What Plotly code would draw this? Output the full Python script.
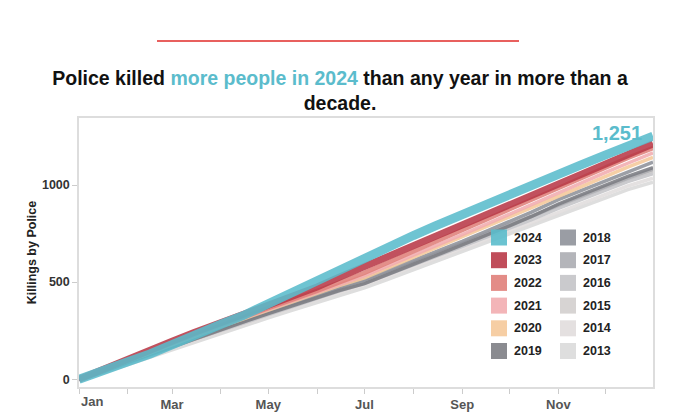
import plotly.graph_objects as go

# cumulative killings by police, read at roughly twice a month
dates = ["2021-01-01", "2021-01-15", "2021-02-01", "2021-02-15", "2021-03-01",
         "2021-03-15", "2021-04-01", "2021-04-15", "2021-05-01", "2021-05-15",
         "2021-06-01", "2021-06-15", "2021-07-01", "2021-07-15", "2021-08-01",
         "2021-08-15", "2021-09-01", "2021-09-15", "2021-10-01", "2021-10-15",
         "2021-11-01", "2021-11-15", "2021-12-01", "2021-12-15", "2021-12-31"]

y2013 = [0, 30, 76, 114, 152, 192, 238, 272, 316, 352, 396, 432, 470, 512, 564, 604, 655, 698, 748, 790, 845, 888, 936, 976, 1015]
y2014 = [0, 32, 80, 118, 158, 198, 245, 280, 325, 362, 406, 444, 484, 525, 578, 618, 670, 712, 762, 805, 860, 902, 952, 995, 1035]
y2015 = [0, 36, 88, 128, 170, 212, 260, 296, 342, 380, 426, 465, 505, 548, 602, 645, 698, 742, 792, 838, 895, 938, 990, 1032, 1072]
y2016 = [0, 34, 84, 122, 164, 205, 252, 288, 334, 370, 416, 454, 494, 536, 590, 632, 684, 728, 778, 822, 880, 924, 975, 1018, 1058]
y2017 = [0, 36, 86, 126, 168, 210, 258, 294, 340, 378, 424, 462, 500, 545, 600, 642, 695, 740, 792, 838, 896, 940, 992, 1036, 1080]
y2018 = [0, 38, 90, 130, 174, 216, 265, 302, 348, 386, 434, 472, 512, 556, 612, 656, 710, 758, 812, 860, 925, 970, 1025, 1070, 1118]
y2019 = [0, 36, 88, 128, 170, 210, 258, 294, 338, 374, 420, 456, 492, 535, 592, 636, 690, 735, 790, 838, 902, 948, 1000, 1045, 1090]
y2020 = [0, 38, 92, 134, 180, 222, 272, 310, 356, 394, 442, 482, 522, 570, 628, 675, 732, 780, 835, 884, 945, 990, 1045, 1092, 1142]
y2021 = [0, 40, 95, 138, 182, 225, 276, 314, 360, 398, 447, 488, 532, 580, 640, 688, 745, 793, 850, 900, 962, 1010, 1065, 1112, 1165]
y2022 = [0, 42, 98, 140, 185, 228, 280, 318, 366, 405, 455, 498, 548, 598, 660, 708, 768, 818, 875, 925, 988, 1035, 1092, 1140, 1190]
y2023 = [0, 48, 105, 150, 195, 240, 290, 328, 378, 420, 475, 525, 580, 628, 686, 733, 792, 838, 900, 950, 1008, 1056, 1110, 1160, 1212]
y2024 = [0, 36, 90, 130, 180, 228, 283, 327, 390, 445, 510, 565, 625, 678, 740, 790, 850, 898, 950, 997, 1055, 1102, 1155, 1203, 1251]

years = ["2013", "2014", "2015", "2016", "2017", "2018",
         "2019", "2020", "2021", "2022", "2023", "2024"]
series = [y2013, y2014, y2015, y2016, y2017, y2018,
          y2019, y2020, y2021, y2022, y2023, y2024]
colors = ["#dadada", "#e1dddd", "#d3cfce", "#c4c4c8", "#acadb2", "#8f929a",
          "#7d7e84", "#f5c99a", "#f2adb0", "#e0807a", "#b93a48", "#5bbccc"]
widths = [3.5, 3.5, 3.5, 3.5, 3.5, 3.5, 3.5, 3.5, 3.5, 4.5, 7, 9]

month_ticks = ["2021-%02d-01" % m for m in range(1, 13)]
month_text = ["", "", "Mar", "", "May", "", "Jul", "", "Sep", "", "Nov", ""]

FONT = "Liberation Sans, Arial, sans-serif"
TEAL = "#5bbccc"

# plot box in pixels
W, H = 680, 419
L, R, T, B = 79, 653, 118, 387


def px(x):
    return (x - L) / (R - L)


def py(y):
    return (B - y) / (B - T)


fig = go.Figure()
for yr, vals, c, w in zip(years, series, colors, widths):
    fig.add_trace(go.Scatter(
        x=dates, y=vals, mode="lines", name=yr,
        line=dict(color=c, width=w), opacity=0.88,
        hoverinfo="skip", showlegend=False
    ))

fig.add_annotation(
    x=dates[-1], y=y2024[-1], text="<b>1,251</b>", showarrow=False,
    xanchor="right", yanchor="middle", xshift=-9, yshift=3,
    font=dict(family=FONT, size=20, color=TEAL)
)
fig.add_annotation(
    x=dates[0], y=0, yref="paper", text="<b>Jan</b>", showarrow=False,
    xanchor="left", yanchor="top", yshift=-5,
    font=dict(family=FONT, size=13, color="#555")
)

# legend drawn by hand: two columns of six
shapes = [dict(type="line", xref="paper", yref="paper",
               x0=px(157), x1=px(519), y0=py(41), y1=py(41),
               line=dict(color="#e8605e", width=2))]
order = years[::-1]
ocolors = colors[::-1]
for i, (yr, c) in enumerate(zip(order, ocolors)):
    col, row = divmod(i, 6)
    sx = 491 + col * 69
    cy = 237.5 + row * 22.7
    shapes.append(dict(type="rect", xref="paper", yref="paper",
                       x0=px(sx), x1=px(sx + 16), y0=py(cy + 8), y1=py(cy - 8),
                       fillcolor=c, opacity=0.9, line=dict(width=0)))
    fig.add_annotation(
        x=px(sx + 21), y=py(cy), xref="paper", yref="paper",
        text="<b>%s</b>" % yr, showarrow=False, xanchor="left", yanchor="middle",
        font=dict(family=FONT, size=12.5, color="#222")
    )

fig.update_layout(
    width=W, height=H,
    margin=dict(l=L, r=W - R, t=T, b=H - B, autoexpand=False),
    paper_bgcolor="white", plot_bgcolor="white",
    font=dict(family=FONT, color="#333"),
    shapes=shapes,
    title=dict(
        text="Police killed <span style='color:%s'>more people in 2024</span> "
             "than any year in more than a<br>decade." % TEAL,
        x=0.5, xanchor="center", y=1 - 85 / H, yanchor="middle",
        font=dict(family=FONT, size=19.5, color="#111", weight="bold")
    ),
    xaxis=dict(
        type="date", range=["2021-01-01", "2021-12-31"], automargin=False,
        tickvals=month_ticks, ticktext=month_text,
        ticks="outside", ticklen=5, tickcolor="#ccc",
        tickfont=dict(family=FONT, size=13, color="#555", weight="bold"),
        showgrid=False, zeroline=False,
        showline=True, linecolor="#ddd", linewidth=1.5, mirror=True
    ),
    yaxis=dict(
        range=[-40, 1345], tickvals=[0, 500, 1000], automargin=False,
        ticks="outside", ticklen=5, tickcolor="#ccc",
        tickfont=dict(family=FONT, size=12.5, color="#333", weight="bold"),
        title=dict(text="Killings by Police", standoff=3,
                   font=dict(family=FONT, size=12.5, color="#222", weight="bold")),
        showgrid=False, zeroline=False,
        showline=True, linecolor="#ddd", linewidth=1.5, mirror=True
    ),
)

fig.write_html("out.html", config={"displayModeBar": False},
               post_script="document.body.style.margin='0';")
